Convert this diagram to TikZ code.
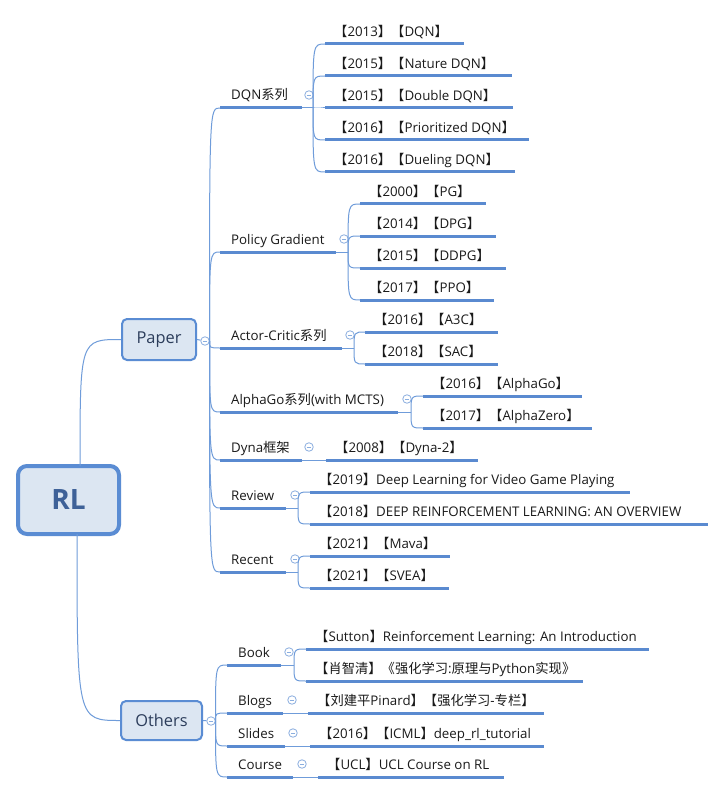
\documentclass[tikz,border=0pt]{standalone}
\usepackage{fontspec}
\setmainfont{Open Sans}
\newfontfamily\cjk{Noto Sans CJK SC}
\usetikzlibrary{calc}
\definecolor{bf}{HTML}{DCE6F2}
\definecolor{bb}{HTML}{5A8CD3}
\definecolor{rlc}{HTML}{3E6198}
\definecolor{ptx}{HTML}{2C3D5B}
\definecolor{ul}{HTML}{5A8AD0}
\definecolor{cn}{HTML}{6F9CDA}
\definecolor{cc}{HTML}{8AAEDF}
\definecolor{txt}{HTML}{1A1A1A}
\newcommand\LBk{{\cjk 【}}
\newcommand\RBk{{\cjk 】}}
\newcommand\CJ[1]{{\cjk #1}}
% first-level topic: name, x1, x2, y, text, circle x
\newcommand\mmtopic[6]{%
  \coordinate (#1s) at (#2,#4);
  \coordinate (#1e) at (#3,#4);
  \draw[uline] (#1s) -- (#1e);
  \node[lbl] (#1) at ([shift={(11,-8)}]#1s) {#5};
  \node[collapse] (#1c) at (#6,#4-13) {};}
% second-level item: name, x1, x2, y, text
\newcommand\mmsub[5]{%
  \coordinate (#1s) at (#2,#4);
  \coordinate (#1e) at (#3,#4);
  \draw[uline] (#1s) -- (#1e);
  \node[lbl] (#1) at ([shift={(9,-7.5)}]#1s) {#5};}
\newcommand\mmfork[2]{\draw[conn] (#1) .. controls (#1 |- #2) .. (#2);}
\begin{document}
\begin{tikzpicture}[x=1pt,y=-1pt,
  lbl/.style={anchor=base west, inner sep=0pt, font=\fontsize{13.3}{15}\selectfont, text=txt},
  uline/.style={draw=ul, line width=3pt},
  conn/.style={draw=cn, line width=1pt},
  collapse/.style={circle, draw=cc, fill=white, minimum size=8.5pt, inner sep=0pt, line width=0.8pt,
    path picture={\draw[cc, line width=0.8pt] ([xshift=2pt]path picture bounding box.west) -- ([xshift=-2pt]path picture bounding box.east);}},
  midbox/.style={draw=bb, fill=bf, line width=2pt, rounded corners=5pt, inner sep=0pt, text=ptx, font=\fontsize{16.4}{18}\selectfont}]
\fill[white] (0,0) rectangle (726,794);
\useasboundingbox (0,0) rectangle (726,794);

% central and main nodes
\node[draw=bb, fill=bf, line width=4pt, rounded corners=9pt, minimum width=101pt, minimum height=68pt,
  inner sep=0pt, text=rlc, font=\fontsize{28}{30}\selectfont\bfseries] (rl) at (68.5,500) {RL};
\node[midbox, minimum width=74pt, minimum height=41pt] (paper) at (159,339.5) {Paper};
\node[midbox, minimum width=81pt, minimum height=39pt] (others) at (161.5,720.5) {Others};
\node[collapse] (paperc) at (205,341) {};
\node[collapse] (othersc) at (211,721) {};
\draw[conn] (paper.east) -- (paperc);
\draw[conn] (others.east) -- (othersc);
\coordinate (rlT) at (80,466);
\coordinate (rlB) at (77,534);
\mmfork{rlT}{paper.west}
\mmfork{rlB}{others.west}

% Paper topics
\mmtopic{dqn}{220}{302}{108}{DQN\CJ{系列}}{309}
\mmtopic{pg}{220}{336}{252}{Policy Gradient}{344}
\mmtopic{ac}{220}{342}{348}{Actor-Critic\CJ{系列}}{350}
\mmtopic{ag}{220}{398}{412}{AlphaGo\CJ{系列}(with MCTS)}{407}
\mmtopic{dy}{220}{302}{460}{Dyna\CJ{框架}}{309}
\mmtopic{rv}{220}{286}{508}{Review}{295}
\mmtopic{rc}{220}{286}{572}{Recent}{295}
\coordinate (paperT) at (209.5,341);
\foreach \n in {dqn,pg,ac,ag,dy,rv,rc}{\mmfork{paperT}{\n s}}

% Others topics
\mmtopic{bk}{227}{281}{665}{Book}{289}
\mmtopic{bl}{227}{283}{713}{Blogs}{292}
\mmtopic{sl}{227}{285}{746}{Slides}{293}
\mmtopic{co}{227}{293}{777}{Course}{302}
\coordinate (othersT) at (215.5,721);
\foreach \n in {bk,bl,sl,co}{\mmfork{othersT}{\n s}}

% DQN series
\mmsub{d1}{325}{464}{44}{\LBk2013\RBk\LBk DQN\RBk}
\mmsub{d2}{325}{512}{76}{\LBk2015\RBk\LBk Nature DQN\RBk}
\mmsub{d3}{325}{513}{108}{\LBk2015\RBk\LBk Double DQN\RBk}
\mmsub{d4}{325}{529}{140}{\LBk2016\RBk\LBk Prioritized DQN\RBk}
\mmsub{d5}{325}{515}{172}{\LBk2016\RBk\LBk Dueling DQN\RBk}
\coordinate (dqnT) at (313,108);
\draw[conn] (dqne) -- (dqnT);
\foreach \n in {d1,d2,d3,d4,d5}{\mmfork{dqnT}{\n s}}

% Policy Gradient
\mmsub{p1}{360}{486}{204}{\LBk2000\RBk\LBk PG\RBk}
\mmsub{p2}{360}{496}{236}{\LBk2014\RBk\LBk DPG\RBk}
\mmsub{p3}{360}{506}{268}{\LBk2015\RBk\LBk DDPG\RBk}
\mmsub{p4}{360}{494}{300}{\LBk2017\RBk\LBk PPO\RBk}
\coordinate (pgT) at (348,252);
\draw[conn] (pge) -- (pgT);
\foreach \n in {p1,p2,p3,p4}{\mmfork{pgT}{\n s}}

% Actor-Critic
\mmsub{a1}{365}{498}{332}{\LBk2016\RBk\LBk A3C\RBk}
\mmsub{a2}{365}{498}{364}{\LBk2018\RBk\LBk SAC\RBk}
\coordinate (acT) at (354,348);
\draw[conn] (ace) -- (acT);
\foreach \n in {a1,a2}{\mmfork{acT}{\n s}}

% AlphaGo
\mmsub{g1}{423}{582}{396}{\LBk2016\RBk\LBk AlphaGo\RBk}
\mmsub{g2}{423}{592}{428}{\LBk2017\RBk\LBk AlphaZero\RBk}
\coordinate (agT) at (411,412);
\draw[conn] (age) -- (agT);
\foreach \n in {g1,g2}{\mmfork{agT}{\n s}}

% Dyna
\mmsub{y1}{326}{478}{460}{\LBk2008\RBk\LBk Dyna-2\RBk}
\draw[conn] (dye) -- (y1s);

% Review
\mmsub{r1}{310}{630}{492}{\LBk2019\RBk Deep Learning for Video Game Playing}
\mmsub{r2}{310}{708}{524}{\LBk2018\RBk DEEP REINFORCEMENT LEARNING: AN OVERVIEW}
\coordinate (rvT) at (298,508);
\draw[conn] (rve) -- (rvT);
\foreach \n in {r1,r2}{\mmfork{rvT}{\n s}}

% Recent
\mmsub{c1}{310}{450}{556}{\LBk2021\RBk\LBk Mava\RBk}
\mmsub{c2}{310}{449}{588}{\LBk2021\RBk\LBk SVEA\RBk}
\coordinate (rcT) at (298,572);
\draw[conn] (rce) -- (rcT);
\foreach \n in {c1,c2}{\mmfork{rcT}{\n s}}

% Book
\mmsub{b1}{306}{649}{649}{\LBk Sutton\RBk Reinforcement Learning: An Introduction}
\mmsub{b2}{306}{583}{681}{\CJ{【肖智清】《强化学习}:\CJ{原理与}Python\CJ{实现》}}
\coordinate (bkT) at (294,665);
\draw[conn] (bke) -- (bkT);
\foreach \n in {b1,b2}{\mmfork{bkT}{\n s}}

% Blogs, Slides, Course
\mmsub{l1}{308}{544}{713}{\CJ{【刘建平}Pinard\CJ{】【强化学习}-\CJ{专栏】}}
\draw[conn] (ble) -- (l1s);
\mmsub{s1}{310}{544}{746}{\LBk2016\RBk\LBk ICML\RBk deep\_rl\_tutorial}
\draw[conn] (sle) -- (s1s);
\mmsub{u1}{318}{504}{777}{\LBk UCL\RBk UCL Course on RL}
\draw[conn] (coe) -- (u1s);
\end{tikzpicture}
\end{document}
